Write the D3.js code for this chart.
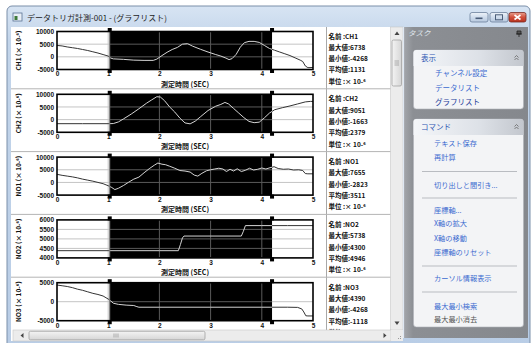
<!DOCTYPE html>
<html><head><meta charset="utf-8">
<script src="https://cdn.jsdelivr.net/npm/d3@7"></script>
<style>
body{margin:0;background:#fff;}
svg{display:block;}
</style>
</head><body><svg id="c" width="531" height="343"></svg>
<script>
// ---------------- data ----------------
const xTicks = [0, 1, 2, 3, 4, 5];
const cursor = [1.03, 4.2];
const chartNames = ["CH1", "CH2", "NO1", "NO2", "NO3"];
const maxVals = ["6738", "9051", "7655", "5738", "4390"];
const minVals = ["-4268", "-1663", "-2823", "4300", "-4268"];
const meanVals = ["1131", "2379", "3511", "4946", "-1118"];
const unitLabel = "× 10-⁶";
const yTicksCH = [10000, 5000, 0, -5000];
const yTicksNO2 = [6000, 5500, 5000, 4500, 4000];
const yTicksNO3 = [5000, 0, -5000];

const tCH1 = [0, 0.1, 0.2, 0.3, 0.4, 0.5, 0.6, 0.7, 0.8, 0.9, 1.0, 1.05, 1.1, 1.3, 1.5, 1.7, 1.88, 1.95, 2.05, 2.15, 2.25, 2.35, 2.45, 2.55, 2.65, 2.8, 2.95, 3.1, 3.2, 3.3, 3.36, 3.42, 3.5, 3.58, 3.66, 3.75, 3.85, 3.95, 4.05, 4.15, 4.25, 4.35, 4.45, 4.55, 4.65, 4.75, 4.8, 4.85, 4.9, 5.0];
const vCH1 = [4500, 4300, 3900, 3600, 3300, 2900, 2500, 2000, 1500, 900, 300, -500, -800, -1000, -1300, -1400, -1400, -900, 500, 1800, 2900, 3700, 5000, 5200, 4200, 3000, 1900, 900, 300, -500, -1100, -700, 1000, 3800, 5600, 6100, 6100, 5700, 4500, 3300, 2600, 1900, 1200, 500, -400, -1300, -1850, -3600, -4268, -4200];

const tCH2 = [0, 0.5, 1.0, 1.1, 1.2, 1.3, 1.45, 1.6, 1.75, 1.85, 1.95, 2.02, 2.1, 2.2, 2.3, 2.4, 2.5, 2.6, 2.7, 2.8, 2.95, 3.1, 3.2, 3.28, 3.35, 3.45, 3.55, 3.65, 3.75, 3.85, 3.95, 4.05, 4.15, 4.25, 4.4, 4.55, 4.7, 4.85, 4.95, 5.0];
const vCH2 = [-1600, -1600, -1600, -1550, -900, 300, 2200, 4300, 6500, 7800, 9051, 8900, 7500, 5000, 3000, 600, -1300, -1663, -600, 1100, 3600, 5300, 6000, 6800, 6200, 4400, 2600, 800, -700, -1200, -1000, 700, 2600, 3900, 4700, 5400, 6200, 7000, 7200, 7200];

const tNO1 = [0, 0.1, 0.2, 0.3, 0.4, 0.5, 0.6, 0.7, 0.8, 0.9, 1.0, 1.07, 1.13, 1.2, 1.3, 1.4, 1.5, 1.6, 1.7, 1.8, 1.9, 1.97, 2.05, 2.12, 2.2, 2.3, 2.4, 2.5, 2.6, 2.68, 2.75, 2.83, 2.92, 3.0, 3.08, 3.16, 3.24, 3.31, 3.38, 3.45, 3.52, 3.6, 3.68, 3.76, 3.84, 3.92, 4.0, 4.08, 4.16, 4.24, 4.32, 4.42, 4.52, 4.62, 4.72, 4.8, 4.85, 4.9, 5.0];
const vNO1 = [3200, 2800, 2500, 2200, 1800, 1300, 900, 500, 0, -500, -1300, -2000, -2823, -2300, -1200, 100, 1300, 2100, 3800, 5400, 6800, 7655, 7200, 7000, 6400, 5600, 4700, 4500, 4100, 2900, 2500, 3600, 4600, 5000, 5300, 5600, 5300, 4300, 5200, 4500, 5400, 4300, 4800, 5600, 4900, 5200, 5700, 5300, 5800, 6200, 5500, 5200, 5300, 4900, 5000, 4700, 3500, 3400, 3400];

const tNO2 = [0, 1.0, 2.0, 2.37, 2.41, 2.45, 2.48, 3.0, 3.6, 3.64, 3.68, 4.0, 4.5, 5.0];
const vNO2 = [4380, 4380, 4380, 4380, 4700, 5050, 5150, 5150, 5150, 5400, 5700, 5700, 5700, 5700];

const tNO3 = [0, 0.1, 0.2, 0.3, 0.4, 0.5, 0.6, 0.7, 0.8, 0.9, 1.0, 1.05, 1.1, 1.2, 1.35, 1.5, 1.56, 1.6, 2.0, 3.0, 4.0, 4.5, 4.7, 4.78, 4.82, 4.86, 4.9, 5.0];
const vNO3 = [4390, 4200, 4000, 3700, 3300, 3000, 2600, 2200, 1900, 1500, 700, 200, -400, -700, -900, -1000, -1300, -1450, -1450, -1450, -1450, -1450, -1500, -1900, -2700, -3700, -3750, -3750];

const groupDisplay = ["チャンネル設定", "データリスト", "グラフリスト"];
const groupCommand = ["テキスト保存", "再計算", "|", "切り出しと間引き...", "|", "座標軸...", "X軸の拡大", "X軸の移動", "座標軸のリセット", "|", "カーソル情報表示", "|", "最大最小検索", "最大最小消去"];

// ---------------- drawing ----------------
const svg = d3.select("#c");
const defs = svg.append("defs");
const JP = "'Noto Sans CJK JP','Noto Sans',sans-serif";
const NUM = "'Liberation Sans',Arial,sans-serif";

function grad(id, stops, horiz) {
  const g = defs.append("linearGradient").attr("id", id)
    .attr("x1", 0).attr("y1", 0).attr("x2", horiz ? 1 : 0).attr("y2", horiz ? 0 : 1);
  stops.forEach(([o, c]) => g.append("stop").attr("offset", o).attr("stop-color", c));
}
grad("frame", [[0, "#d7e4f3"], [0.1, "#c3d5ea"], [1, "#b9cde6"]]);
grad("btn", [[0, "#eef3f9"], [0.5, "#cfdcec"], [1, "#b7c8de"]]);
grad("btnClose", [[0, "#e9a08f"], [0.5, "#d2503c"], [1, "#b8321f"]]);
grad("pane", [[0, "#a6a9ae"], [0.08, "#8c8f94"], [1, "#85888d"]], true);
grad("ghead", [[0, "#f4f6f9"], [0.6, "#dde1e7"], [1, "#c3c7ce"]], true);
grad("thumbV", [[0, "#f4f4f4"], [1, "#d6d6d6"]], true);
grad("thumbH", [[0, "#f4f4f4"], [1, "#d6d6d6"]]);

// window frame & title bar
svg.append("rect").attr("x", 7).attr("y", 6).attr("width", 523).attr("height", 345).attr("rx", 5)
  .attr("fill", "url(#frame)").attr("stroke", "#7b8fa9");
// title icon
svg.append("rect").attr("x", 13).attr("y", 13).attr("width", 9).attr("height", 8).attr("fill", "#e8eef6").attr("stroke", "#5b7394").attr("stroke-width", 0.8);
svg.append("rect").attr("x", 14.5).attr("y", 16).attr("width", 3).attr("height", 4).attr("fill", "#3f7a3a");
svg.append("text").attr("x", 27).attr("y", 20.5).attr("font-family", JP).attr("font-size", 8)
  .attr("fill", "#1c1c1c").text("データトリガ計測-001 - (グラフリスト)");
// window buttons
[[470, "btn"], [490, "btn"]].forEach(([x, f]) => {
  svg.append("rect").attr("x", x).attr("y", 12.5).attr("width", 18).attr("height", 9.5).attr("rx", 2)
    .attr("fill", `url(#${f})`).attr("stroke", "#6c809c").attr("stroke-width", 0.8);
});
svg.append("rect").attr("x", 475.5).attr("y", 17.5).attr("width", 7).attr("height", 1.6).attr("fill", "#4a5d78");
svg.append("rect").attr("x", 495.5).attr("y", 14.8).attr("width", 7).attr("height", 5).attr("fill", "none").attr("stroke", "#4a5d78").attr("stroke-width", 1);
svg.append("rect").attr("x", 509).attr("y", 12.5).attr("width", 17).attr("height", 9.5).attr("rx", 2)
  .attr("fill", "url(#btnClose)").attr("stroke", "#7a2a22").attr("stroke-width", 0.8);
svg.append("path").attr("d", "M514.5,15 L520.5,19.5 M520.5,15 L514.5,19.5").attr("stroke", "#fff").attr("stroke-width", 1.6);

// client area
svg.append("rect").attr("x", 11).attr("y", 27).attr("width", 392).attr("height", 314).attr("fill", "#fff");
defs.append("clipPath").attr("id", "clientClip").append("rect").attr("x", 11).attr("y", 27).attr("width", 380).attr("height", 303);

const series = [
  { t: tCH1, v: vCH1, ticks: yTicksCH },
  { t: tCH2, v: vCH2, ticks: yTicksCH },
  { t: tNO1, v: vNO1, ticks: yTicksCH },
  { t: tNO2, v: vNO2, ticks: yTicksNO2 },
  { t: tNO3, v: vNO3, ticks: yTicksNO3 }
];

const x = d3.scaleLinear().domain([0, 5]).range([57, 313]);
const plotH = 38, top0 = 31.5, step = 62.8;
const xa = x(cursor[0]), xb = x(cursor[1]);
const client = svg.append("g").attr("clip-path", "url(#clientClip)");

// info column divider
client.append("line").attr("x1", 326.5).attr("x2", 326.5).attr("y1", 27).attr("y2", 330).attr("stroke", "#a8a8a8").attr("stroke-width", 1);

series.forEach((s, i) => {
  const top = top0 + i * step, bot = top + plotH;
  const y = d3.scaleLinear().domain(d3.extent(s.ticks)).range([bot, top]);
  const g = client.append("g");

  if (i > 0) g.append("line").attr("x1", 11).attr("x2", 391).attr("y1", top - 5.5).attr("y2", top - 5.5).attr("stroke", "#b4b4b4");

  // clip paths
  const wc = defs.append("clipPath").attr("id", "w" + i);
  wc.append("rect").attr("x", x(0)).attr("y", top).attr("width", xa - x(0)).attr("height", plotH);
  wc.append("rect").attr("x", xb).attr("y", top).attr("width", x(5) - xb).attr("height", plotH);
  defs.append("clipPath").attr("id", "b" + i).append("rect").attr("x", xa).attr("y", top).attr("width", xb - xa).attr("height", plotH);

  g.append("rect").attr("x", x(0)).attr("y", top).attr("width", x(5) - x(0)).attr("height", plotH).attr("fill", "#fff");
  g.append("rect").attr("x", xa).attr("y", top).attr("width", xb - xa).attr("height", plotH).attr("fill", "#000");

  const inner = s.ticks.slice(1, -1);
  const vgrid = xTicks.slice(1, -1);
  [["w", "#c4c4c4"], ["b", "#5a5a5a"]].forEach(([k, col]) => {
    const gg = g.append("g").attr("clip-path", `url(#${k}${i})`);
    gg.selectAll(".h").data(inner).join("line").attr("x1", x(0)).attr("x2", x(5))
      .attr("y1", d => y(d)).attr("y2", d => y(d)).attr("stroke", col).attr("stroke-width", 1);
    gg.selectAll(".v").data(vgrid).join("line").attr("y1", top).attr("y2", bot)
      .attr("x1", d => x(d)).attr("x2", d => x(d)).attr("stroke", col).attr("stroke-width", 1);
  });

  const line = d3.line().x(d => x(d[0])).y(d => y(d[1]));
  const pts = d3.zip(s.t, s.v);
  g.append("path").attr("clip-path", `url(#w${i})`).attr("d", line(pts)).attr("fill", "none").attr("stroke", "#333").attr("stroke-width", 1);
  g.append("path").attr("clip-path", `url(#b${i})`).attr("d", line(pts)).attr("fill", "none").attr("stroke", "#d4d4d4").attr("stroke-width", 1);

  g.append("line").attr("x1", xa).attr("x2", xa).attr("y1", top).attr("y2", bot).attr("stroke", "#777");
  g.append("rect").attr("x", x(0)).attr("y", top).attr("width", x(5) - x(0)).attr("height", plotH)
    .attr("fill", "none").attr("stroke", "#000").attr("stroke-width", 1.6);
  [xa, xb].forEach(cx => {
    g.append("rect").attr("x", cx - 2).attr("y", top - 3.5).attr("width", 4).attr("height", 4).attr("fill", "#000");
    g.append("rect").attr("x", cx - 2).attr("y", bot - 0.5).attr("width", 4).attr("height", 4).attr("fill", "#000");
  });

  // axes
  const ya = g.append("g").attr("transform", `translate(${x(0)},0)`)
    .call(d3.axisLeft(y).tickValues(s.ticks).tickSize(0).tickPadding(3).tickFormat(d => String(d)));
  ya.select(".domain").remove();
  ya.selectAll("text").attr("font-size", 6.5).attr("font-weight", "bold").attr("font-family", NUM).attr("fill", "#111");
  const xax = g.append("g").attr("transform", `translate(0,${bot})`)
    .call(d3.axisBottom(x).tickValues(xTicks).tickSize(0).tickPadding(2.2).tickFormat(d => String(d)));
  xax.select(".domain").remove();
  xax.selectAll("text").attr("font-size", 6.5).attr("font-weight", "bold").attr("font-family", NUM).attr("fill", "#111");

  g.append("text").attr("x", (x(0) + x(5)) / 2).attr("y", bot + 17).attr("text-anchor", "middle")
    .attr("font-family", JP).attr("font-size", 7).attr("font-weight", "bold").attr("fill", "#111").text("測定時間 (SEC)");

  g.append("text").attr("transform", `translate(19,${top + plotH / 2}) rotate(-90)`).attr("text-anchor", "middle")
    .attr("dy", "0.35em").attr("font-family", JP).attr("font-size", 6.5).attr("font-weight", "bold").attr("fill", "#111")
    .text(`${chartNames[i]} (${unitLabel})`);

  const info = [`名前 :${chartNames[i]}`, `最大値:${maxVals[i]}`, `最小値:${minVals[i]}`, `平均値:${meanVals[i]}`, `単位 :${unitLabel}`];
  g.selectAll(".info").data(info).join("text").attr("x", 328.5).attr("y", (d, k) => top + 7 + k * 11.3)
    .attr("font-family", JP).attr("font-size", 6.5).attr("font-weight", "bold").attr("fill", "#111").text(d => d);
});

// vertical scrollbar
svg.append("rect").attr("x", 390.5).attr("y", 27).attr("width", 12.5).attr("height", 303).attr("fill", "#ececec").attr("stroke", "#c8c8c8").attr("stroke-width", 0.6);
svg.append("path").attr("d", "M394.5,35 L397,31.5 L399.5,35 Z").attr("fill", "#444");
svg.append("path").attr("d", "M394.5,321.5 L397,325 L399.5,321.5 Z").attr("fill", "#444");
svg.append("rect").attr("x", 392).attr("y", 40).attr("width", 9.5).attr("height", 46).attr("rx", 1.5).attr("fill", "url(#thumbV)").attr("stroke", "#9a9a9a").attr("stroke-width", 0.7);
[61, 63, 65].forEach(yy => svg.append("line").attr("x1", 394.5).attr("x2", 399).attr("y1", yy).attr("y2", yy).attr("stroke", "#888").attr("stroke-width", 0.6));

// horizontal scrollbar
svg.append("rect").attr("x", 13).attr("y", 330).attr("width", 378).attr("height", 11).attr("fill", "#ececec").attr("stroke", "#c8c8c8").attr("stroke-width", 0.6);
svg.append("path").attr("d", "M23.5,333 L20.5,335.5 L23.5,338 Z").attr("fill", "#444");
svg.append("path").attr("d", "M383.5,333 L386.5,335.5 L383.5,338 Z").attr("fill", "#444");
svg.append("rect").attr("x", 29).attr("y", 331.3).attr("width", 176).attr("height", 8.5).attr("rx", 1.5).attr("fill", "url(#thumbH)").attr("stroke", "#9a9a9a").attr("stroke-width", 0.7);
[114, 116, 118].forEach(xx => svg.append("line").attr("x1", xx).attr("x2", xx).attr("y1", 333.5).attr("y2", 337.5).attr("stroke", "#888").attr("stroke-width", 0.6));
svg.append("rect").attr("x", 391).attr("y", 330).attr("width", 12).attr("height", 11).attr("fill", "#ececec");
[[400, 338], [398, 338], [400, 336]].forEach(([a, b]) => svg.append("rect").attr("x", a).attr("y", b).attr("width", 1).attr("height", 1).attr("fill", "#999"));

// task pane
svg.append("rect").attr("x", 403).attr("y", 27).attr("width", 125).attr("height", 311).attr("fill", "url(#pane)");
svg.append("line").attr("x1", 403.5).attr("x2", 403.5).attr("y1", 27).attr("y2", 338).attr("stroke", "#dfe8f3").attr("stroke-width", 1.2);
svg.append("text").attr("x", 408).attr("y", 36).attr("font-family", JP).attr("font-size", 7.5).attr("font-style", "italic").attr("fill", "#dfe3ea").text("タスク");
svg.append("path").attr("d", "M517,31 h4 v3 h-4 z M519,34 v3 M516,34 h6").attr("stroke", "#222").attr("stroke-width", 0.8).attr("fill", "#555");

function group(top, height, title, items) {
  svg.append("rect").attr("x", 413.5).attr("y", top).attr("width", 110).attr("height", height).attr("rx", 3)
    .attr("fill", "#f3f4f6").attr("stroke", "#aeb2b9").attr("stroke-width", 0.6);
  svg.append("path").attr("d", `M413.5,${top + 16} V${top + 3} Q413.5,${top} 416.5,${top} H520.5 Q523.5,${top} 523.5,${top + 3} V${top + 16} Z`)
    .attr("fill", "url(#ghead)");
  svg.append("text").attr("x", 421).attr("y", top + 10.8).attr("font-family", JP).attr("font-size", 7.5).attr("fill", "#2f57b3").text(title);
  svg.append("path").attr("d", `M514.5,${top + 7.5} l2,-2 l2,2 M514.5,${top + 10} l2,-2 l2,2`).attr("fill", "none").attr("stroke", "#666").attr("stroke-width", 0.8);
  return top + 16;
}
let gy = group(50, 59, "表示", groupDisplay);
groupDisplay.forEach((t, k) => {
  svg.append("text").attr("x", 435).attr("y", gy + 10 + k * 14.5).attr("font-family", JP).attr("font-size", 7.5)
    .attr("fill", k === 2 ? "#26409a" : "#3b6bd0").text(t);
});

gy = group(119, 208, "コマンド", groupCommand);
const cmdY = [146, 160, 171.5, 187.5, 198, 212.5, 226, 240.5, 254.5, 266, 280.5, 292, 308.5, 321.5];
groupCommand.forEach((t, k) => {
  if (t === "|") {
    svg.append("line").attr("x1", 422).attr("x2", 517).attr("y1", cmdY[k]).attr("y2", cmdY[k]).attr("stroke", "#b9bcc1").attr("stroke-width", 1);
  } else {
    svg.append("text").attr("x", 434).attr("y", cmdY[k]).attr("font-family", JP).attr("font-size", 7.2)
      .attr("fill", k === groupCommand.length - 1 ? "#555" : "#3b6bd0").text(t);
  }
});
</script>
</body></html>
